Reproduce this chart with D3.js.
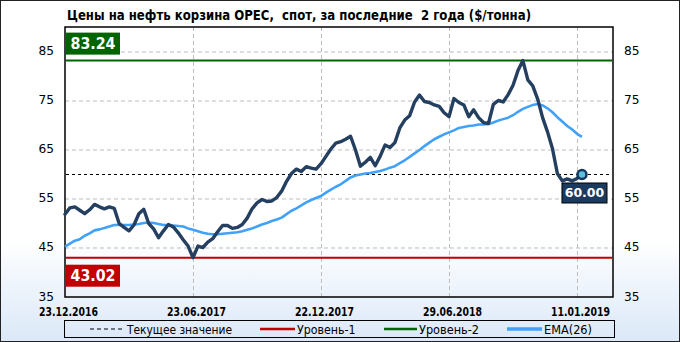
<!DOCTYPE html>
<html><head><meta charset="utf-8">
<script src="https://cdn.jsdelivr.net/npm/d3@7"></script>
<style>html,body{margin:0;padding:0;background:#fff}svg{display:block}</style>
</head><body>
<svg id="c" width="680" height="342"></svg>
<script>
const title = "Цены на нефть корзина OPEC,  спот, за последние  2 года ($/тонна)";
const price = [51.9,53.2,53.4,52.7,52.0,52.8,53.9,53.4,53.0,53.4,53.1,50.0,49.2,48.5,49.7,52.0,52.9,50.0,48.9,47.1,
48.5,49.8,49.3,48.1,46.7,45.4,43.02,45.4,45.1,46.2,46.9,48.3,49.6,49.6,49.0,49.2,49.8,51.1,53.0,54.2,
54.9,54.5,54.6,55.3,56.6,58.6,60.2,61.1,60.6,61.6,61.3,61.1,62.2,63.7,65.2,66.4,66.7,67.2,67.8,65.0,
61.7,62.5,63.5,61.8,63.7,66.0,65.5,66.5,69.5,71.1,72.0,74.8,76.2,74.9,74.7,74.2,73.9,72.6,71.8,75.5,
74.7,74.2,71.8,73.2,71.6,70.6,70.4,74.3,75.1,74.8,76.3,78.2,81.2,83.24,79.3,78.1,75.4,71.6,68.7,65.3,
60.2,58.7,59.1,58.7,59.2,60.00];
const ema = [45.3,45.9,46.5,46.8,47.5,48.0,48.6,48.8,49.1,49.4,49.7,49.7,49.7,49.7,49.8,49.9,50.1,50.2,50.1,49.9,
49.7,49.7,49.6,49.5,49.4,49.0,48.7,48.4,48.1,47.9,47.8,47.8,47.9,48.0,48.1,48.2,48.4,48.7,49.0,49.4,
49.8,50.1,50.5,50.8,51.2,51.9,52.6,53.1,53.7,54.3,54.8,55.2,55.6,56.3,56.9,57.5,58.0,58.7,59.4,59.8,
60.0,60.2,60.3,60.5,60.7,61.0,61.4,61.7,62.3,62.9,63.6,64.3,65.0,65.8,66.5,67.2,67.7,68.2,68.6,69.0,
69.5,69.7,69.9,70.0,70.2,70.2,70.3,70.6,71.0,71.3,71.6,72.1,72.8,73.4,73.8,74.2,74.4,74.1,73.5,72.7,
71.7,70.8,69.9,69.2,68.3,67.7];
const xTickIndex = [0, 26, 52, 78, 104];
const xTickLabels = ["23.12.2016", "23.06.2017", "22.12.2017", "29.06.2018", "11.01.2019"];
const yTicks = [35, 45, 55, 65, 75, 85];
const legendLabels = ["Текущее значение", "Уровень-1", "Уровень-2", "EMA(26)"];

const W = 680, H = 342;
const L = 65, R = 613, T = 27, B = 297;
const narrow = "'DejaVu Sans Condensed','Liberation Sans Narrow',sans-serif";
const svg = d3.select("#c");
const defs = svg.append("defs");
const g1 = defs.append("linearGradient").attr("id","bg").attr("x1",0).attr("y1",0).attr("x2",0).attr("y2",1);
g1.append("stop").attr("offset","0%").attr("stop-color","#ffffff");
g1.append("stop").attr("offset","70%").attr("stop-color","#ffffff");
g1.append("stop").attr("offset","100%").attr("stop-color","#dbe8f8");

svg.append("rect").attr("x",0.5).attr("y",0.5).attr("width",W-1).attr("height",H-1)
  .attr("fill","url(#bg)").attr("stroke","#222").attr("stroke-width",1);

const x = d3.scaleLinear().domain([0, 111.3]).range([L, R]);
const y = d3.scaleLinear().domain([35, 90.1]).range([B, T]);

const level1 = d3.min(price), level2 = d3.max(price), current = price[price.length-1];

// grid
svg.append("g").selectAll("line").data(yTicks.filter(d=>d>35)).join("line")
  .attr("x1",L).attr("x2",R).attr("y1",d=>y(d)).attr("y2",d=>y(d))
  .attr("stroke","#bdbdbd").attr("stroke-dasharray","4,3").attr("stroke-width",1);
svg.append("g").selectAll("line").data(xTickIndex.slice(1)).join("line")
  .attr("x1",d=>Math.round(x(d))+0.5).attr("x2",d=>Math.round(x(d))+0.5).attr("y1",T).attr("y2",B)
  .attr("stroke","#bdbdbd").attr("stroke-dasharray","4,3").attr("stroke-width",1);

// frame
svg.append("rect").attr("x",L).attr("y",T).attr("width",R-L).attr("height",B-T)
  .attr("fill","none").attr("stroke","#000").attr("stroke-width",1.5);

// axes labels
const axL = d3.axisLeft(y).tickValues(yTicks).tickSize(0).tickPadding(0);
const gL = svg.append("g").attr("transform",`translate(${L-11},-1)`).call(axL);
const axR = d3.axisRight(y).tickValues(yTicks).tickSize(0).tickPadding(0);
const gR = svg.append("g").attr("transform",`translate(${R+11},-1)`).call(axR);
[gL,gR].forEach(gg=>{gg.select(".domain").remove();
  gg.selectAll("text").attr("font-family","'DejaVu Sans', Verdana, sans-serif").attr("font-size",12.5).attr("fill","#000")
    .attr("textLength",15.5).attr("lengthAdjust","spacingAndGlyphs");});

const axB = d3.axisBottom(x).tickValues(xTickIndex).tickFormat((d,i)=>xTickLabels[i]).tickSize(0).tickPadding(0);
const gB = svg.append("g").attr("transform",`translate(3,${B+10})`).call(axB);
gB.select(".domain").remove();
gB.selectAll("text").attr("font-family",narrow)
  .attr("font-weight","bold").attr("font-size",12.5).attr("fill","#000")
  .attr("textLength",59).attr("lengthAdjust","spacingAndGlyphs");

// title
svg.append("text").attr("x",67).attr("y",19.5).text(title)
  .attr("font-family",narrow).attr("font-weight","bold").attr("font-size",14).attr("fill","#000")
  .style("white-space","pre").attr("textLength",464).attr("lengthAdjust","spacingAndGlyphs");

// levels
svg.append("line").attr("x1",L+1).attr("x2",R-1).attr("y1",y(current)).attr("y2",y(current))
  .attr("stroke","#000").attr("stroke-dasharray","3,3").attr("stroke-width",1);
svg.append("line").attr("x1",L+1).attr("x2",R-1).attr("y1",y(level1)).attr("y2",y(level1))
  .attr("stroke","#c00000").attr("stroke-width",2);
svg.append("line").attr("x1",L+1).attr("x2",R-1).attr("y1",y(level2)).attr("y2",y(level2))
  .attr("stroke","#006400").attr("stroke-width",2);

// EMA
svg.append("path").datum(ema).attr("fill","none").attr("stroke","#42a1fa").attr("stroke-width",2.6)
  .attr("stroke-linejoin","round").attr("d",d3.line().x((d,i)=>x(i)).y(d=>y(d)));
// price
svg.append("path").datum(price).attr("fill","none").attr("stroke","#243f60").attr("stroke-width",3.4)
  .attr("stroke-linejoin","round").attr("stroke-linecap","round").attr("d",d3.line().x((d,i)=>x(i)).y(d=>y(d)));

// level labels
function box(x0, yTop, w, h, fill, txt){
  svg.append("rect").attr("x",x0).attr("y",yTop).attr("width",w).attr("height",h).attr("fill",fill);
  svg.append("text").attr("x",x0+w/2).attr("y",yTop+h/2).attr("dy","0.36em").attr("text-anchor","middle")
    .attr("fill","#fff").attr("font-weight","bold").attr("font-size",15.5).attr("font-family","'DejaVu Sans', Verdana, sans-serif")
    .attr("textLength",45).attr("lengthAdjust","spacingAndGlyphs").text(txt);
}
box(L+1, y(level2)-28, 54, 22, "#006400", level2.toFixed(2));
box(L+1, y(level1)+7, 54, 22, "#c00000", level1.toFixed(2));

const lx = x(price.length-1), ly = y(current);
svg.append("rect").attr("x",lx-20).attr("y",ly+8.5).attr("width",45).attr("height",20)
  .attr("fill","#1c3a5e").attr("stroke","#000").attr("stroke-width",1);
svg.append("text").attr("x",lx+2.5).attr("y",ly+18.5).attr("dy","0.36em").attr("text-anchor","middle")
  .attr("fill","#fff").attr("font-weight","bold").attr("font-size",12.5).attr("font-family","'DejaVu Sans', Verdana, sans-serif")
  .text(current.toFixed(2));
svg.append("circle").attr("cx",lx).attr("cy",ly).attr("r",4.5).attr("fill","#5bc0de")
  .attr("stroke","#14365c").attr("stroke-width",2.5);

// legend
const lg = svg.append("g");
lg.append("rect").attr("x",64.5).attr("y",320.5).attr("width",550).attr("height",17)
  .attr("fill","none").attr("stroke","#000").attr("stroke-width",1);
const items = [
  {x1:90,x2:122,tx:127,tw:105,stroke:"#000",dash:"4,3",w:1},
  {x1:260,x2:295,tx:297,tw:58.5,stroke:"#c00000",dash:null,w:2.5},
  {x1:384,x2:417,tx:419,tw:60,stroke:"#006400",dash:null,w:2.5},
  {x1:507,x2:542,tx:544,tw:48,stroke:"#42a1fa",dash:null,w:3.5}
];
items.forEach((it,i)=>{
  lg.append("line").attr("x1",it.x1).attr("x2",it.x2).attr("y1",329).attr("y2",329)
    .attr("stroke",it.stroke).attr("stroke-width",it.w).attr("stroke-dasharray",it.dash);
  lg.append("text").attr("x",it.tx).attr("y",329).attr("dy","0.36em").text(legendLabels[i])
    .attr("font-family",narrow).attr("font-size",13).attr("fill","#000")
    .attr("textLength",it.tw).attr("lengthAdjust","spacingAndGlyphs");
});
</script>
</body></html>
